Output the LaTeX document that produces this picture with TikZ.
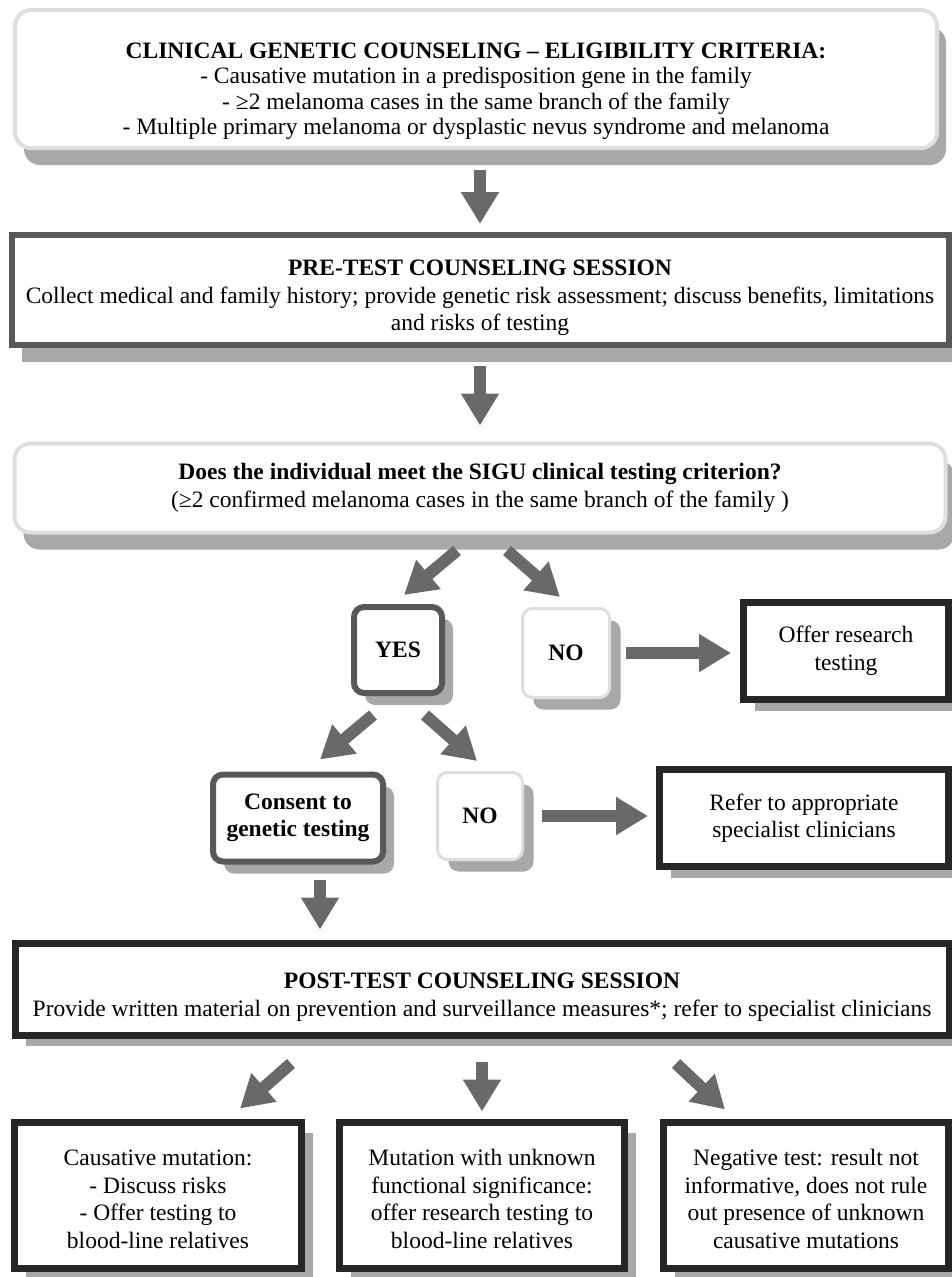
\documentclass[tikz,border=0pt]{standalone}
\usepackage{fontspec}
\setmainfont{Liberation Serif}
\usetikzlibrary{arrows.meta,shadows,calc}
\definecolor{arrowgray}{RGB}{105,105,105}
\definecolor{shadowgray}{RGB}{168,168,168}
\definecolor{lightborder}{RGB}{222,222,222}
\definecolor{darkborder}{RGB}{88,88,88}
\definecolor{blackborder}{RGB}{38,38,38}

\begin{document}
\begin{tikzpicture}[x=1pt,y=-1pt,
		font=\fontsize{23.5}{27.5}\selectfont,
		every node/.style={align=center,inner sep=0pt,fill=white},
		softbox/.style={draw=lightborder,line width=4pt,rounded corners=16pt,
			drop shadow={shadow xshift=9pt,shadow yshift=-17pt,fill=shadowgray,opacity=1}},
		softsmall/.style={draw=lightborder,line width=3pt,rounded corners=10pt,
			drop shadow={shadow xshift=11pt,shadow yshift=-12pt,fill=shadowgray,opacity=1}},
		darkround/.style={draw=darkborder,line width=6pt,rounded corners=10pt,
			drop shadow={shadow xshift=11pt,shadow yshift=-12pt,fill=shadowgray,opacity=1}},
		darkrect/.style={draw=darkborder,line width=6pt,
			drop shadow={shadow xshift=10pt,shadow yshift=-17pt,fill=shadowgray,opacity=1}},
		blackrect/.style={draw=blackborder,line width=7pt,
			drop shadow={shadow xshift=11pt,shadow yshift=-11pt,fill=shadowgray,opacity=1}},
		bigarrow/.style={draw=arrowgray,line width=12pt,-{Triangle[width=36pt,length=32pt]}}]
			\useasboundingbox (0,0) rectangle (951,1277);
			% counseling steps
			\node[softbox,minimum width=922pt,minimum height=138pt,font=\fontsize{23.5}{25.5}\selectfont] (crit) at (476,79) {\rule{0pt}{40pt}\textbf{CLINICAL GENETIC COUNSELING – ELIGIBILITY CRITERIA:}\\ - Causative mutation in a predisposition gene in the family\\ - ≥2 melanoma cases in the same branch of the family\\ - Multiple primary melanoma or dysplastic nevus syndrome and melanoma};
			\node[darkrect,minimum width=937pt,minimum height=110pt] (pre) at (480,290) {\rule{0pt}{32pt}\textbf{PRE-TEST COUNSELING SESSION}\\ Collect medical and family history; provide genetic risk assessment; discuss benefits, limitations\\ and risks of testing};
			\node[softbox,minimum width=931pt,minimum height=89pt] (sigu) at (480,488) {\textbf{Does the individual meet the SIGU clinical testing criterion?}\\ (≥2 confirmed melanoma cases in the same branch of the family )};
			% decisions
			\node[darkround,minimum width=88pt,minimum height=86pt] (yes) at (398,650) {\textbf{YES}};
			\node[softsmall,minimum width=87pt,minimum height=89pt] (noresearch) at (566,653) {\textbf{NO}};
			\node[blackrect,minimum width=205pt,minimum height=97pt] (offer) at (846,651) {Offer research\\ testing};
			\node[darkround,minimum width=170pt,minimum height=87pt] (consent) at (298,818) {\textbf{Consent to}\\ \textbf{genetic testing}};
			\node[softsmall,minimum width=85pt,minimum height=87pt] (noconsent) at (480,816) {\textbf{NO}};
			\node[blackrect,minimum width=289pt,minimum height=97pt] (refer) at (804,818) {Refer to appropriate\\ specialist clinicians};
			\node[blackrect,minimum width=934pt,minimum height=92pt] (post) at (482,989) {\rule{0pt}{32pt}\textbf{POST-TEST COUNSELING SESSION}\\ Provide written material on prevention and surveillance measures*; refer to specialist clinicians};
			% test results
			\node[blackrect,minimum width=287pt,minimum height=146pt] (causative) at (158,1195) {\rule{0pt}{24pt}Causative mutation:\\ - Discuss risks\\ - Offer testing to\\ blood-line relatives};
			\node[blackrect,minimum width=285pt,minimum height=146pt] (unknown) at (482,1195) {\rule{0pt}{24pt}Mutation with unknown\\ functional significance:\\ offer research testing to\\ blood-line relatives};
			\node[blackrect,minimum width=285pt,minimum height=146pt] (negative) at (806,1195) {\rule{0pt}{24pt}Negative test: result not\\ informative, does not rule\\ out presence of unknown\\ causative mutations};
			\coordinate (consentout) at ($(consent.south)+(22,0)$);
			% arrows
			\draw[bigarrow,shorten <=20pt,shorten >=8pt] (crit.south -| pre.north) -- (pre.north);
			\draw[bigarrow,shorten <=18pt,shorten >=16pt] (pre.south) -- (pre.south |- sigu.north);
			\draw[bigarrow] ($(sigu.south)+(-23,16)$) -- ($(yes.north)+(6,-9)$);
			\draw[bigarrow] ($(sigu.south)+(27,16)$) -- ($(noresearch.north)+(-6,-10)$);
			\draw[bigarrow,shorten <=15pt,shorten >=9pt] (noresearch.east) -- (noresearch.east -| offer.west);
			\draw[bigarrow] ($(yes.south)+(-25,19)$) -- ($(consent.north)+(22,-12)$);
			\draw[bigarrow] ($(yes.south)+(27,19)$) -- ($(noconsent.north)+(-3,-10)$);
			\draw[bigarrow,shorten <=18pt,shorten >=8pt] (noconsent.east) -- (noconsent.east -| refer.west);
			\draw[bigarrow,shorten <=15pt,shorten >=10pt] (consentout) -- (consentout |- post.north);
			\draw[bigarrow] ($(post.south)+(-191,25)$) -- ($(causative.north)+(82,-10)$);
			\draw[bigarrow,shorten <=23pt,shorten >=7pt] (post.south) -- (unknown.north);
			\draw[bigarrow] ($(post.south)+(194,25)$) -- ($(negative.north)+(-81,-9)$);
		\end{tikzpicture}
\end{document}
